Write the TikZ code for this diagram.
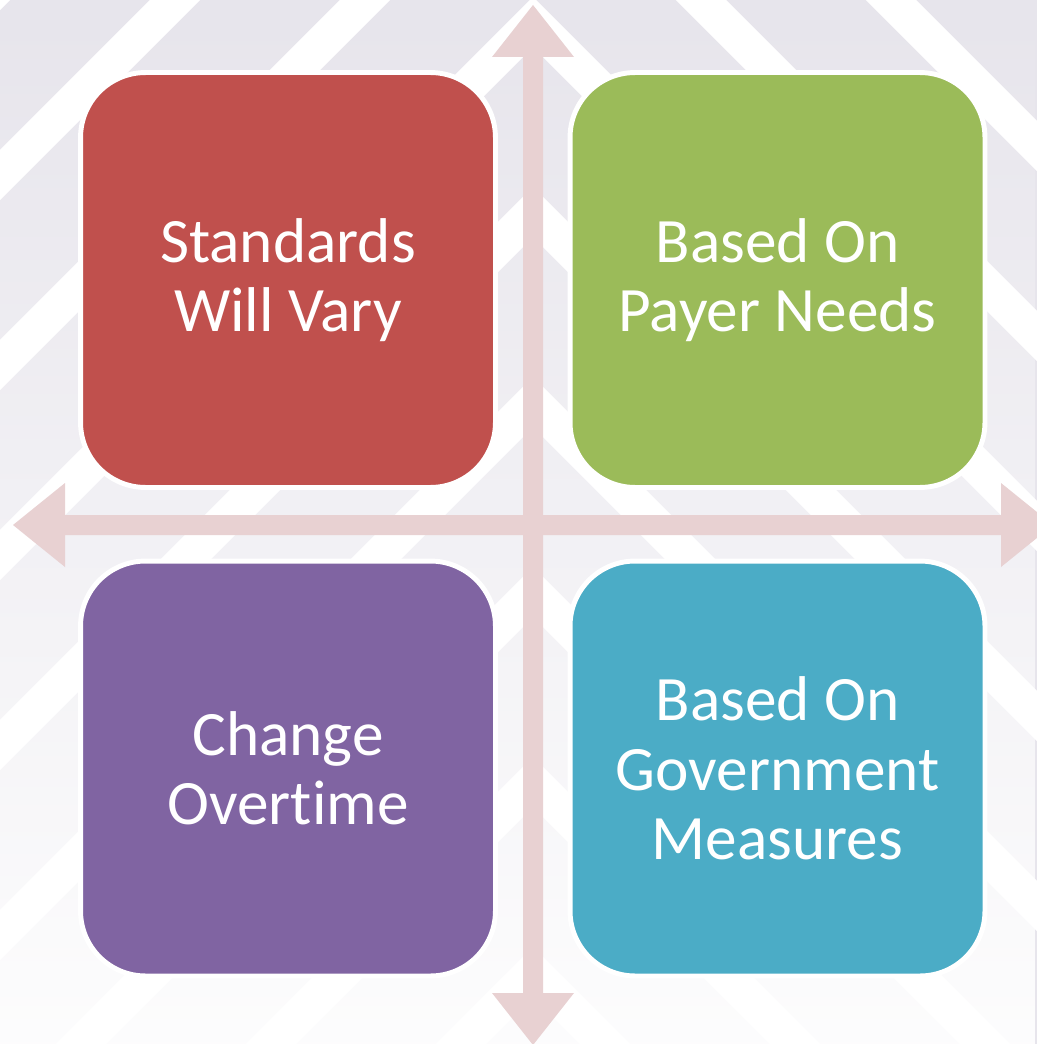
\documentclass[tikz,border=0pt]{standalone}
\usepackage{fontspec}
\setmainfont{Carlito}[Ligatures=NoCommon]
\usetikzlibrary{fadings}

\definecolor{boxred}{HTML}{C0504D}
\definecolor{boxgreen}{HTML}{9BBB59}
\definecolor{boxpurple}{HTML}{8064A2}
\definecolor{boxteal}{HTML}{4BACC6}
\definecolor{axispink}{HTML}{E8D1D2}
\definecolor{latticegrey}{HTML}{E7E5EC}

\tikzfading[name=bgfade, top color=transparent!100, middle color=transparent!50, bottom color=transparent!8]

\tikzset{
  quadbox/.style={rectangle, rounded corners=1.3cm, minimum width=8.3cm, minimum height=8.3cm,
    draw=white, line width=2.8pt, text=white, align=center,
    font=\fontsize{36}{39.5}\selectfont},
  axis/.style={fill=axispink},
  band/.style={draw=latticegrey, line width=56pt}
}

\begin{document}
\begin{tikzpicture}[x=0.02cm, y=-0.02cm]
  \useasboundingbox (0,0) rectangle (1037,1044);
  \clip (0,0) rectangle (1037,1044);

  % chevron stripes: rising on the left half, falling on the right half
  \fill[white] (0,0) rectangle (1037,1044);
  \begin{scope}
    \clip (0,0) rectangle (533,1044);
    \foreach \k in {0,...,12} {
      \draw[band] ({80+190*\k+100},-100) -- ({80+190*\k-1200},1200);
    }
  \end{scope}
  \begin{scope}
    \clip (533,0) rectangle (1037,1044);
    \foreach \k in {-7,...,6} {
      \draw[band] ({36+190*\k-100},-100) -- ({36+190*\k+1200},1200);
    }
  \end{scope}
  \fill[white, path fading=bgfade] (0,0) rectangle (1037,1044);

  % axis end points
  \coordinate (ntip) at (533,5);
  \coordinate (stip) at (533,1045);
  \coordinate (wtip) at (13,525);
  \coordinate (etip) at (1053,525);

  % vertical and horizontal double-headed axes
  \fill[axis] (523,57) -- (492,57) -- (ntip) -- (574,57) -- (543,57)
    -- (543,993) -- (574,993) -- (stip) -- (492,993) -- (523,993) -- cycle;
  \fill[axis] (65,515) -- (65,483) -- (wtip) -- (65,567) -- (65,535)
    -- (1001,535) -- (1001,567) -- (etip) -- (1001,483) -- (1001,515) -- cycle;

  % quadrant boxes
  \node[quadbox, fill=boxred]    (q1) at (288,280)   {Standards\\Will Vary};
  \node[quadbox, fill=boxgreen]  (q2) at (777.5,280) {Based On\\Payer Needs};
  \node[quadbox, fill=boxpurple] (q3) at (288,768.5) {Change\\Overtime};
  \node[quadbox, fill=boxteal]   (q4) at (777.5,768.5) {Based On\\Government\\Measures};
\end{tikzpicture}
\end{document}
